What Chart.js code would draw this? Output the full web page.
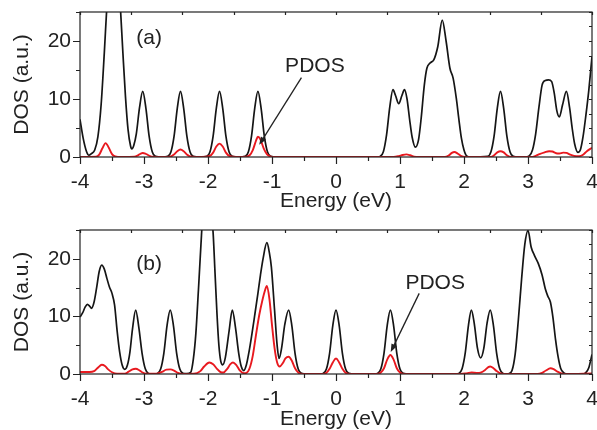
<!DOCTYPE html>
<html>
<head>
<meta charset="utf-8">
<script src="https://cdn.jsdelivr.net/npm/chart.js@4.4.1/dist/chart.umd.min.js"></script>
<style>
  html, body { margin: 0; padding: 0; background: #fff; }
  #wrap { position: relative; width: 597px; height: 430px; }
  canvas { position: absolute; left: 0; }
  #panelA { top: 0; }
  #panelB { top: 212px; }
</style>
</head>
<body>
<div id="wrap">
  <canvas id="panelA" width="597" height="212"></canvas>
  <canvas id="panelB" width="597" height="218"></canvas>
</div>
<script>
// panel (a): total DOS
const aTotalE = [-4.00, -3.95, -3.90, -3.86, -3.82, -3.77, -3.72, -3.67, -3.62, -3.58, -3.53, -3.47, -3.41, -3.37, -3.33, -3.29, -3.25, -3.21, -3.19, -3.16, -3.12, -3.07, -3.02, -2.97, -2.92, -2.87, -2.82, -2.72,
  -2.63, -2.58, -2.53, -2.48, -2.43, -2.38, -2.33, -2.28, -2.23, -2.12,
  -2.02, -1.97, -1.92, -1.87, -1.82, -1.77, -1.72, -1.67, -1.62, -1.52,
  -1.42, -1.37, -1.32, -1.27, -1.22, -1.17, -1.12, -1.07, -1.02, -0.92,
  0.64, 0.69, 0.74, 0.79, 0.84, 0.89, 0.93, 0.98, 1.03, 1.07, 1.11, 1.15, 1.19, 1.24, 1.29, 1.33, 1.38, 1.42, 1.47, 1.53, 1.59, 1.66, 1.72, 1.78, 1.83, 1.88, 1.92, 1.96, 2.00, 2.04, 2.10,
  2.37, 2.42, 2.47, 2.52, 2.57, 2.62, 2.67, 2.72, 2.77, 2.85,
  2.95, 3.02, 3.07, 3.12, 3.17, 3.22, 3.27, 3.32, 3.37, 3.41, 3.45, 3.49, 3.54, 3.60, 3.65, 3.69, 3.73, 3.78, 3.82, 3.86, 3.90, 3.95, 4.00];
const aTotalDos = [6.5, 3.2, 1.0, 0.3, 0.6, 1.2, 3.5, 9.0, 18.0, 26.0, 34.0, 38.0, 33.0, 26.0, 18.0, 10.5, 4.8, 1.9, 1.4, 2.0, 4.0, 8.5, 11.3, 8.4, 3.6, 0.85, 0.1, 0.0,
  0.1, 0.85, 3.6, 8.4, 11.3, 8.4, 3.6, 0.85, 0.1, 0.0,
  0.1, 0.85, 3.6, 8.4, 11.3, 8.4, 3.6, 0.85, 0.1, 0.0,
  0.1, 0.85, 3.6, 8.4, 11.3, 8.4, 3.6, 0.85, 0.1, 0.0,
  0.0, 0.1, 0.9, 3.8, 8.6, 11.6, 10.6, 9.2, 10.6, 11.6, 10.0, 6.5, 3.4, 1.7, 3.0, 6.6, 12.4, 15.3, 16.2, 16.8, 19.0, 23.6, 20.0, 15.3, 13.6, 10.1, 6.5, 3.2, 1.2, 0.2, 0.0,
  0.1, 0.85, 3.6, 8.4, 11.3, 8.4, 3.6, 0.85, 0.1, 0.0,
  0.0, 0.2, 1.2, 4.0, 8.5, 12.4, 13.2, 13.3, 13.0, 11.0, 8.0, 6.9, 9.0, 11.3, 8.5, 5.0, 2.2, 0.8, 1.3, 3.5, 6.8, 11.5, 17.3];

// panel (a): PDOS
const aPdosE = [-4.00, -3.75, -3.70, -3.65, -3.60, -3.55, -3.50, -3.45, -3.35,
  -3.15, -3.10, -3.05, -3.02, -2.98, -2.93, -2.88, -2.70,
  -2.58, -2.53, -2.48, -2.43, -2.38, -2.33, -2.28, -2.10,
  -1.97, -1.92, -1.87, -1.82, -1.77, -1.72, -1.67, -1.55,
  -1.40, -1.35, -1.30, -1.25, -1.22, -1.18, -1.13, -1.08, -1.03, -0.95,
  0.90, 0.98, 1.04, 1.10, 1.16, 1.22, 1.30,
  1.70, 1.76, 1.81, 1.85, 1.90, 1.95, 2.02,
  2.42, 2.47, 2.52, 2.57, 2.62, 2.67, 2.74,
  3.05, 3.12, 3.18, 3.26, 3.33, 3.38, 3.44, 3.49, 3.55, 3.60, 3.66, 3.72, 3.80, 3.86, 3.92, 4.00];
const aPdos = [0.0, 0.05, 0.4, 1.5, 2.4, 1.6, 0.5, 0.1, 0.0,
  0.05, 0.25, 0.6, 0.7, 0.6, 0.3, 0.05, 0.0,
  0.1, 0.45, 1.0, 1.3, 1.0, 0.45, 0.1, 0.0,
  0.2, 0.75, 1.8, 2.3, 1.8, 0.75, 0.2, 0.0,
  0.05, 0.3, 1.2, 2.8, 3.5, 3.0, 1.5, 0.5, 0.1, 0.0,
  0.0, 0.15, 0.35, 0.45, 0.3, 0.05, 0.0,
  0.0, 0.25, 0.7, 0.85, 0.6, 0.2, 0.0,
  0.0, 0.3, 0.8, 1.0, 0.8, 0.3, 0.0,
  0.0, 0.2, 0.5, 0.8, 1.0, 0.95, 0.65, 0.6, 0.75, 0.7, 0.4, 0.2, 0.15, 0.4, 1.0, 1.6];

// panel (b): total DOS
const bTotalE = [-4.00, -3.96, -3.92, -3.885, -3.85, -3.82, -3.78, -3.74, -3.70, -3.66, -3.62, -3.58, -3.54, -3.50, -3.46, -3.42, -3.38, -3.34, -3.30, -3.26, -3.22, -3.18, -3.13, -3.08, -3.03, -2.98, -2.93, -2.86,
  -2.79, -2.74, -2.69, -2.64, -2.59, -2.54, -2.49, -2.44, -2.39, -2.33,
  -2.27, -2.23, -2.19, -2.15, -2.11, -2.08, -2.01, -1.95, -1.92, -1.89, -1.86, -1.83, -1.80, -1.77, -1.73, -1.67, -1.62, -1.57, -1.52, -1.48,
  -1.44, -1.40, -1.36, -1.32, -1.27, -1.22, -1.18, -1.14, -1.08, -1.04, -1.01, -0.96, -0.92, -0.89, -0.85, -0.80, -0.74, -0.69, -0.64, -0.59, -0.54, -0.45,
  -0.25, -0.20, -0.15, -0.10, -0.05, 0.00, 0.05, 0.10, 0.15, 0.20, 0.30,
  0.60, 0.65, 0.70, 0.75, 0.80, 0.85, 0.90, 0.95, 1.00, 1.05, 1.15,
  1.87, 1.92, 1.97, 2.02, 2.07, 2.115, 2.16, 2.21, 2.26, 2.31, 2.36, 2.41, 2.46, 2.51, 2.56, 2.61, 2.68,
  2.70, 2.75, 2.80, 2.85, 2.90, 2.95, 3.00, 3.05, 3.10, 3.16, 3.22, 3.27, 3.31, 3.35, 3.39, 3.43, 3.47, 3.51, 3.56, 3.62,
  3.85, 3.90, 3.95, 4.00];
const bTotalDos = [9.9, 10.6, 11.6, 12.1, 11.8, 11.4, 12.5, 15.0, 17.8, 18.9, 18.2, 16.6, 15.1, 14.0, 12.0, 7.5, 3.8, 1.5, 0.8, 1.5, 3.8, 7.8, 11.1, 8.0, 3.6, 0.9, 0.1, 0.0,
  0.1, 0.85, 3.6, 8.4, 11.1, 8.4, 3.6, 0.85, 0.1, 0.05,
  0.3, 2.5, 7.0, 14.5, 22.5, 28.0, 34.0, 28.0, 24.5, 17.5, 10.5, 5.0, 2.2, 1.6, 2.8, 7.5, 11.1, 8.0, 3.6, 1.3,
  0.6, 1.6, 3.8, 6.5, 10.2, 14.0, 17.2, 20.0, 22.8, 21.0, 18.6, 11.1, 5.0, 2.7, 4.5, 8.6, 11.1, 8.4, 3.6, 0.85, 0.1, 0.0,
  0.0, 0.1, 0.85, 3.6, 8.4, 11.1, 8.4, 3.6, 0.85, 0.1, 0.0,
  0.0, 0.1, 0.85, 3.6, 8.4, 11.1, 8.4, 3.6, 0.85, 0.1, 0.0,
  0.0, 0.1, 0.9, 3.7, 8.5, 11.1, 8.8, 4.5, 2.8, 4.5, 8.8, 11.1, 8.4, 3.6, 0.85, 0.1, 0.0,
  0.05, 0.6, 3.5, 9.5, 16.5, 22.5, 24.9, 22.0, 20.6, 19.2, 17.2, 14.8, 13.5, 12.5, 9.8, 6.0, 3.0, 1.0, 0.2, 0.0,
  0.0, 0.2, 1.1, 3.4];

// panel (b): PDOS
const bPdosE = [-4.00, -3.85, -3.78, -3.72, -3.66, -3.61, -3.56, -3.50, -3.42,
  -3.30, -3.24, -3.18, -3.13, -3.08, -3.03, -2.96,
  -2.80, -2.72, -2.65, -2.59, -2.53, -2.47, -2.40,
  -2.22, -2.12, -2.06, -1.98, -1.92, -1.86, -1.80, -1.76, -1.70, -1.65, -1.61, -1.56, -1.50, -1.44,
  -1.40, -1.35, -1.30, -1.25, -1.20, -1.15, -1.11, -1.08, -1.04, -1.00, -0.96, -0.92, -0.88, -0.83, -0.79, -0.74, -0.69, -0.64, -0.59, -0.52,
  -0.20, -0.15, -0.10, -0.05, 0.00, 0.05, 0.10, 0.15, 0.22,
  0.63, 0.70, 0.75, 0.80, 0.85, 0.90, 0.95, 1.00, 1.07,
  1.95, 2.05, 2.12, 2.20, 2.27, 2.33, 2.38, 2.41, 2.46, 2.51, 2.56, 2.63,
  3.15, 3.22, 3.28, 3.35, 3.40, 3.46, 3.52, 3.60, 4.00];
const bPdos = [0.35, 0.35, 0.5, 1.1, 1.6, 1.4, 0.8, 0.3, 0.05,
  0.05, 0.4, 0.8, 0.9, 0.7, 0.3, 0.05,
  0.05, 0.35, 0.75, 0.8, 0.6, 0.2, 0.0,
  0.05, 0.5, 1.3, 2.0, 1.7, 0.9, 0.3, 0.25, 0.9, 1.7, 2.0, 1.6, 0.6, 0.15,
  0.2, 1.0, 3.2, 6.8, 10.2, 12.8, 14.5, 15.3, 13.0, 8.5, 4.5, 2.0, 1.3, 1.9, 2.7, 3.0, 2.3, 1.0, 0.25, 0.0,
  0.0, 0.2, 0.9, 2.0, 2.7, 2.0, 0.9, 0.2, 0.0,
  0.0, 0.25, 1.0, 2.5, 3.3, 2.5, 1.0, 0.25, 0.0,
  0.0, 0.15, 0.25, 0.2, 0.3, 0.7, 1.2, 1.3, 1.0, 0.5, 0.15, 0.0,
  0.0, 0.2, 0.6, 1.0, 0.85, 0.4, 0.1, 0.0, 0.1];

// annotations, in data coordinates
const notesA = { label: '(a)', labelAt: [-2.92, 20.4], pdosAt: [-0.33, 15.6], arrowFrom: [-0.54, 13.7], arrowTo: [-1.2, 2.1] };
const notesB = { label: '(b)', labelAt: [-2.92, 19.0], pdosAt: [1.55, 15.8], arrowFrom: [1.30, 14.0], arrowTo: [0.855, 3.8] };

const FONT = 'Liberation Sans, Arial, sans-serif';
const INK = '#222';
const BLACK = '#151515';
const RED = '#e8191f';

const pts = (xs, ys) => xs.map((x, i) => ({ x: x, y: ys[i] }));

// box with Origin-style ticks: outward majors/minors on bottom+left, small inward ones on top+right
const frame = {
  id: 'frame',
  afterDatasetsDraw(chart) {
    const { ctx, chartArea: a, scales: { x, y } } = chart;
    ctx.save();
    ctx.strokeStyle = INK;
    ctx.lineWidth = 1.2;
    ctx.strokeRect(a.left, a.top, a.right - a.left, a.bottom - a.top);
    ctx.beginPath();
    for (let i = 0; i <= 16; i++) {
      const px = Math.round(x.getPixelForValue(-4 + i * 0.5)) + 0.5;
      ctx.moveTo(px, a.bottom);
      ctx.lineTo(px, a.bottom + (i % 2 === 0 ? 7 : 4));
    }
    for (let i = 0; i <= 10; i++) {
      const px = Math.round(x.getPixelForValue(-4 + i * 0.8)) + 0.5;
      ctx.moveTo(px, a.top);
      ctx.lineTo(px, a.top + 3);
    }
    for (let i = 0; i <= 5; i++) {
      const py = Math.round(y.getPixelForValue(i * 5)) + 0.5;
      ctx.moveTo(a.left, py);
      ctx.lineTo(a.left - (i % 2 === 0 ? 7 : 4), py);
    }
    for (let i = 0; i <= 10; i++) {
      const py = Math.round(y.getPixelForValue(i * 2.5)) + 0.5;
      ctx.moveTo(a.right, py);
      ctx.lineTo(a.right - 3, py);
    }
    ctx.stroke();
    ctx.restore();
  }
};

const notes = {
  id: 'notes',
  afterDraw(chart, args, n) {
    const { ctx, scales: { x, y } } = chart;
    const P = p => [x.getPixelForValue(p[0]), y.getPixelForValue(p[1])];
    ctx.save();
    ctx.fillStyle = INK;
    ctx.strokeStyle = INK;
    ctx.font = '21px ' + FONT;
    ctx.textAlign = 'center';
    ctx.textBaseline = 'middle';
    let [lx, ly] = P(n.labelAt);
    ctx.fillText(n.label, lx, ly);
    [lx, ly] = P(n.pdosAt);
    ctx.fillText('PDOS', lx, ly);
    const [x0, y0] = P(n.arrowFrom);
    const [x1, y1] = P(n.arrowTo);
    const ang = Math.atan2(y1 - y0, x1 - x0);
    ctx.lineWidth = 1.3;
    ctx.beginPath();
    ctx.moveTo(x0, y0);
    ctx.lineTo(x1 - 5 * Math.cos(ang), y1 - 5 * Math.sin(ang));
    ctx.stroke();
    ctx.beginPath();
    ctx.moveTo(x1, y1);
    ctx.lineTo(x1 - 8 * Math.cos(ang) + 3 * Math.sin(ang), y1 - 8 * Math.sin(ang) - 3 * Math.cos(ang));
    ctx.lineTo(x1 - 8 * Math.cos(ang) - 3 * Math.sin(ang), y1 - 8 * Math.sin(ang) + 3 * Math.cos(ang));
    ctx.closePath();
    ctx.fill();
    ctx.restore();
  }
};

function makePanel(id, totE, totDos, pE, pDos, n, topPad, xAxisHeight) {
  return new Chart(document.getElementById(id), {
    type: 'line',
    data: {
      datasets: [
        { data: pts(pE, pDos), borderColor: RED, borderWidth: 1.9, order: 0 },
        { data: pts(totE, totDos), borderColor: BLACK, borderWidth: 1.7, order: 1 }
      ]
    },
    options: {
      responsive: false,
      animation: false,
      layout: { padding: { top: topPad, right: 5, left: 0, bottom: 0 } },
      elements: {
        point: { radius: 0 },
        line: { cubicInterpolationMode: 'monotone', fill: false }
      },
      plugins: { legend: { display: false }, tooltip: { enabled: false }, notes: n },
      scales: {
        x: {
          type: 'linear', min: -4, max: 4,
          ticks: { stepSize: 1, padding: 13, color: INK, font: { family: FONT, size: 21 } },
          grid: { display: false, drawTicks: false },
          border: { display: false },
          title: { display: true, text: 'Energy (eV)', color: INK, padding: { top: 0, bottom: -2 }, font: { family: FONT, size: 21 } },
          afterFit: s => { s.height = xAxisHeight; s.paddingLeft = 0; s.paddingRight = 0; }
        },
        y: {
          min: 0, max: 25,
          ticks: { stepSize: 10, includeBounds: false, padding: 9, color: INK, font: { family: FONT, size: 21 } },
          grid: { display: false, drawTicks: false },
          border: { display: false },
          title: { display: true, text: 'DOS (a.u.)', color: INK, padding: { top: 10, bottom: 0 }, font: { family: FONT, size: 21 } },
          afterFit: s => { s.width = 80; s.paddingTop = 0; s.paddingBottom = 0; }
        }
      }
    },
    plugins: [frame, notes]
  });
}

makePanel('panelA', aTotalE, aTotalDos, aPdosE, aPdos, notesA, 12, 55);
makePanel('panelB', bTotalE, bTotalDos, bPdosE, bPdos, notesB, 18, 56);
</script>
</body>
</html>
